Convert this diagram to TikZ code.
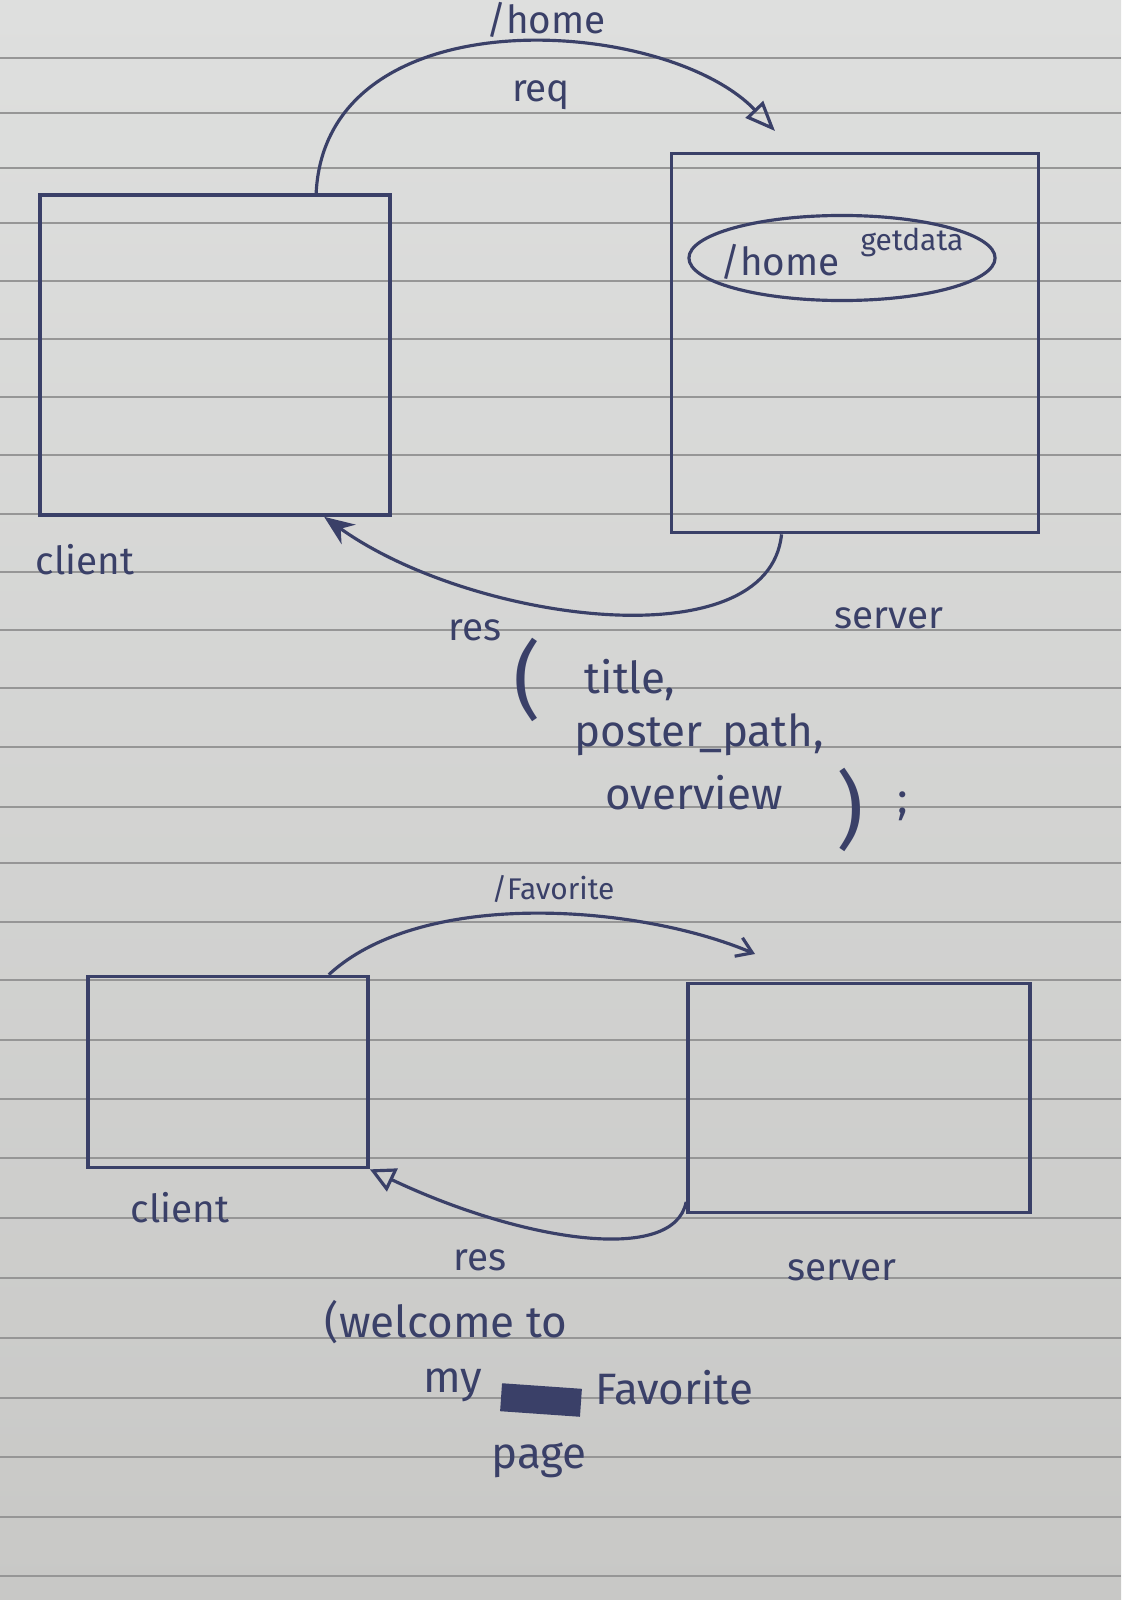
\documentclass[tikz,border=0pt]{standalone}
\usepackage{fontspec}
\setmainfont{Fira Sans}
\usetikzlibrary{arrows.meta,shapes.geometric}

\definecolor{tinta}{RGB}{58,64,104}
\definecolor{papelclaro}{RGB}{222,223,222}
\definecolor{papelescuro}{RGB}{200,200,198}
\definecolor{pauta}{RGB}{150,150,150}

\begin{document}
\begin{tikzpicture}[
        x=0.01cm, y=-0.01cm,
        caixa/.style={draw=tinta, line width=1pt, inner sep=0pt},
        rota/.style={ellipse, draw=tinta, line width=0.9pt, minimum width=3.06cm, minimum height=0.85cm, inner sep=0pt},
        seta/.style={draw=tinta, line width=0.9pt},
        rotulo/.style={text=tinta, inner sep=0pt, font=\fontsize{11}{13}\selectfont},
        pequeno/.style={text=tinta, inner sep=0pt, font=\fontsize{8.5}{10}\selectfont},
        resposta/.style={text=tinta, inner sep=0pt, font=\fontsize{12.5}{15}\selectfont},
        parentese/.style={text=tinta, inner sep=0pt, font=\fontsize{24}{24}\selectfont}
    ]

        % ==================================================
        % PAPEL
        % ==================================================

        \useasboundingbox (0,0) rectangle (1121,1600);
        \shade[top color=papelclaro, bottom color=papelescuro] (0,0) rectangle (1121,1600);
        \foreach \y in {58,113,168,223,281,339,397,455,514,572,630,688,747,807,863,922,980,1040,1099,1158,1218,1278,1338,1398,1457,1517,1576}
            \draw[pauta, line width=0.4pt] (0,\y) -- (1121,\y);

        % ==================================================
        % /home
        % ==================================================

        \node[caixa, minimum width=3.5cm, minimum height=3.2cm] (cliente1) at (215,355) {};
        \node[caixa, minimum width=3.67cm, minimum height=3.79cm] (servidor1) at (855,343) {};
        \node[rota] (rotahome) at (842,258) {};

        \node[rotulo] (lcliente1) at (85,560) {client};
        \node[rotulo] (lservidor1) at (889,618) {server};
        \node[rotulo] (lhome) at (780,262) {/home};
        \node[pequeno] (lgetdata) at (912,242) {getdata};

        \node[rotulo] (lrota1) at (546,20) {/home};
        \node[rotulo] (lreq) at (541,95) {req};
        \node[rotulo] (lres1) at (475,630) {res};

        \coordinate (pontareq) at (775,131);

        % Setas
        \draw[seta, -{Triangle[open, length=3mm, width=2.4mm]}] (cliente1.58) .. controls +(10,-200) and +(-110,-115) .. (pontareq);
        \draw[seta, -{Stealth[length=3mm, width=2.4mm]}] (servidor1.249) .. controls +(-13,128) and +(146,105) .. (cliente1.304);

        % Resposta
        \node[parentese] (abre) at (527,680) {(};
        \node[resposta] (ltitle) at (630,680) {title,};
        \node[resposta] (lposter) at (699,735) {poster\_path,};
        \node[resposta] (loverview) at (694,793) {overview};
        \node[parentese] (fecha) at (850,810) {)};
        \node[resposta] (pontovirgula) at (903,806) {;};

        % ==================================================
        % /Favorite
        % ==================================================

        \node[caixa, minimum width=2.8cm, minimum height=1.91cm] (cliente2) at (228,1072) {};
        \node[caixa, minimum width=3.42cm, minimum height=2.29cm] (servidor2) at (859,1098) {};

        \node[rotulo] (lcliente2) at (180,1208) {client};
        \node[rotulo] (lservidor2) at (842,1270) {server};
        \node[pequeno] (lrota2) at (553,889) {/Favorite};
        \node[rotulo] (lres2) at (480,1260) {res};

        \coordinate (pontafav) at (755,954);

        % Setas
        \draw[seta, -{Straight Barb[length=1.5mm, width=2mm]}] (cliente2.44) .. controls +(94,-87) and +(-115,-49) .. (pontafav);
        \draw[seta, -{Triangle[open, length=2.5mm, width=2.5mm]}] (servidor2.211) .. controls +(-12,63) and +(152,72) .. (cliente2.south east);

        % Resposta
        \node[resposta] (lwelcome) at (446,1322) {(welcome to};
        \node[resposta] (lmy) at (453,1385) {my};
        \node[fill=tinta, rotate=-4, minimum width=0.8cm, minimum height=0.28cm, inner sep=0pt] (rabisco) at (541,1400) {};
        \node[resposta] (lfavorite) at (674,1388) {Favorite};
        \node[resposta] (lpage) at (539,1460) {page};
    \end{tikzpicture}
\end{document}
